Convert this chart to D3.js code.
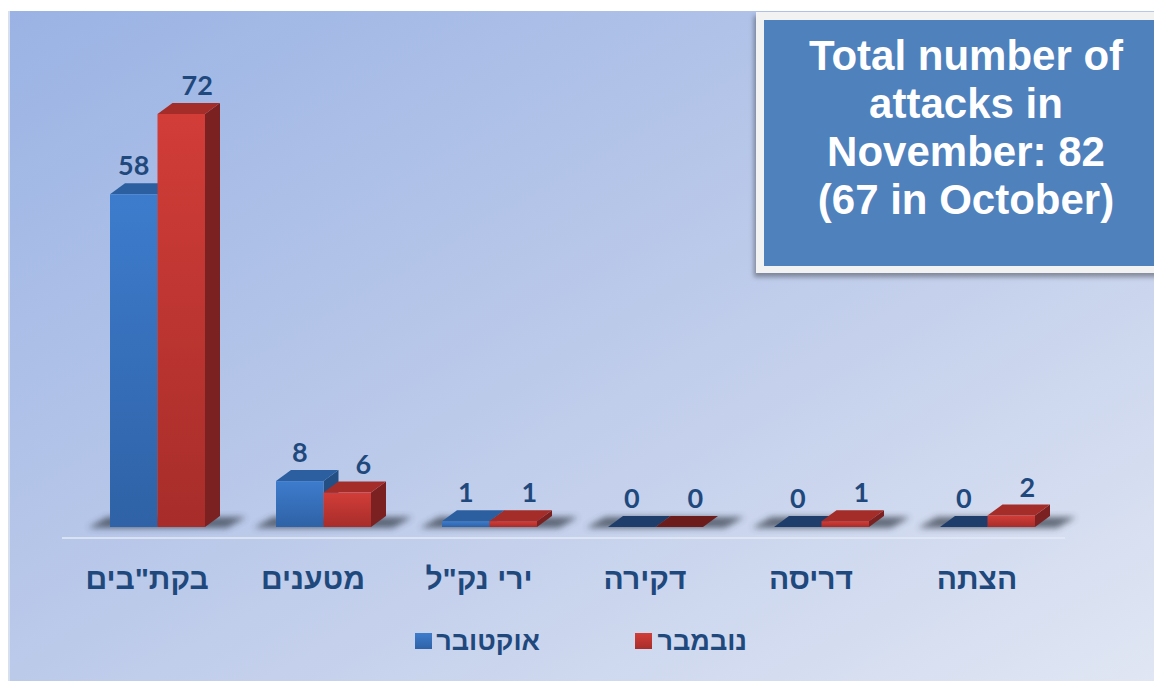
<!DOCTYPE html>
<html>
<head>
<meta charset="utf-8">
<script src="https://cdn.jsdelivr.net/npm/d3@7"></script>
<style>
  body { margin: 0; background: #fff; }
  svg { display: block; }
</style>
</head>
<body>
<svg width="1154" height="682"></svg>
<script>
// categories (right-to-left order as in the picture, shown left to right)
var categories = ["בקת\"בים", "מטענים", "ירי נק\"ל", "דקירה", "דריסה", "הצתה"];
var october = [58, 8, 1, 0, 0, 0];
var november = [72, 6, 1, 0, 1, 2];
var seriesNames = ["אוקטובר", "נובמבר"];
var boxLines = ["Total number of", "attacks in", "November: 82", "(67 in October)"];

var svg = d3.select("svg");
var defs = svg.append("defs");

// background gradient
var bg = defs.append("linearGradient").attr("id", "bg")
  .attr("x1", 0).attr("y1", 0).attr("x2", 1).attr("y2", 1);
bg.append("stop").attr("offset", 0).attr("stop-color", "#9ab3e4");
bg.append("stop").attr("offset", 0.5).attr("stop-color", "#bccaea");
bg.append("stop").attr("offset", 1).attr("stop-color", "#e0e6f3");

function vgrad(id, c1, c2) {
  var g = defs.append("linearGradient").attr("id", id)
    .attr("x1", 0).attr("y1", 0).attr("x2", 0).attr("y2", 1);
  g.append("stop").attr("offset", 0).attr("stop-color", c1);
  g.append("stop").attr("offset", 1).attr("stop-color", c2);
}
vgrad("blueFront", "#3d7ccd", "#2f62a6");
vgrad("redFront", "#d23d38", "#a72d2a");

defs.append("filter").attr("id", "blur")
  .attr("x", "-20%").attr("y", "-100%").attr("width", "140%").attr("height", "300%")
  .append("feGaussianBlur").attr("stdDeviation", 3);

var sh = defs.append("filter").attr("id", "boxShadow")
  .attr("x", "-10%").attr("y", "-10%").attr("width", "130%").attr("height", "130%");
sh.append("feDropShadow").attr("dx", -2).attr("dy", 4).attr("stdDeviation", 2.5)
  .attr("flood-color", "#000").attr("flood-opacity", 0.35);

svg.append("rect").attr("x", 8).attr("y", 11).attr("width", 1146).attr("height", 670)
  .attr("fill", "url(#bg)");
svg.append("rect").attr("x", 8).attr("y", 11).attr("width", 2).attr("height", 670)
  .attr("fill", "#d7e0ef");

// scales
var x = d3.scaleBand().domain(categories).range([64, 1060]);
var y = d3.scaleLinear().domain([0, 72]).range([527, 114]);
var bw = 47.5, dx = 15, dy = -11;
var base = y(0);

// floor line
svg.append("line").attr("x1", 62).attr("x2", 1065).attr("y1", 538).attr("y2", 538)
  .attr("stroke", "#e3e9f5").attr("stroke-width", 2).attr("opacity", 0.8);

var colors = {
  blue: { front: "url(#blueFront)", top: "#2c5f9f", side: "#244f85", flat: "#1f3d6b" },
  red: { front: "url(#redFront)", top: "#a52d29", side: "#7b2121", flat: "#6d1c1c" }
};

var groups = svg.selectAll("g.grp").data(categories).enter().append("g").attr("class", "grp");

// floor shadows
groups.append("path")
  .attr("d", function (d) {
    var c = x(d) + x.bandwidth() / 2;
    var x0 = c - 37 - 22, x1 = c + 58 + 22;
    return "M" + x0 + "," + (base + 1) + "L" + x1 + "," + (base + 1) +
      "L" + (x1 + dx + 4) + "," + (base + dy + 1) + "L" + (x0 + dx + 4) + "," + (base + dy + 1) + "Z";
  })
  .attr("fill", "#333a47").attr("opacity", 0.7).attr("filter", "url(#blur)");

function drawBar(g, x0, v, col) {
  var yt = y(v);
  if (v > 0) {
    g.append("path")
      .attr("d", "M" + (x0 + bw) + "," + yt + "L" + (x0 + bw + dx) + "," + (yt + dy) +
        "L" + (x0 + bw + dx) + "," + (base + dy) + "L" + (x0 + bw) + "," + base + "Z")
      .attr("fill", col.side);
  }
  g.append("path")
    .attr("d", "M" + x0 + "," + yt + "L" + (x0 + bw) + "," + yt +
      "L" + (x0 + bw + dx) + "," + (yt + dy) + "L" + (x0 + dx) + "," + (yt + dy) + "Z")
    .attr("fill", v > 0 ? col.top : col.flat);
  if (v > 0) {
    g.append("rect").attr("x", x0).attr("y", yt).attr("width", bw).attr("height", base - yt)
      .attr("fill", col.front);
  }
}

groups.each(function (d, i) {
  var g = d3.select(this);
  var c = x(d) + x.bandwidth() / 2;
  drawBar(g, c - 37, october[i], colors.blue);
  drawBar(g, c - 37 + bw, november[i], colors.red);
});

// value labels
var labelFont = "Lato, 'Open Sans', sans-serif";
groups.append("text")
  .attr("x", function (d) { return x(d) + x.bandwidth() / 2 - 37 + bw / 2; })
  .attr("y", function (d, i) { return y(october[i]) - 19; })
  .attr("text-anchor", "middle").attr("font-family", labelFont).attr("font-weight", 700)
  .attr("font-size", 27).attr("fill", "#1f497d")
  .text(function (d, i) { return october[i]; });
groups.append("text")
  .attr("x", function (d) { return x(d) + x.bandwidth() / 2 - 37 + bw * 1.5 + 16; })
  .attr("y", function (d, i) { return y(november[i]) - 19; })
  .attr("text-anchor", "middle").attr("font-family", labelFont).attr("font-weight", 700)
  .attr("font-size", 27).attr("fill", "#1f497d")
  .text(function (d, i) { return november[i]; });

// category labels
var hebFont = "'Liberation Sans', Arial, 'DejaVu Sans', sans-serif";
groups.append("text")
  .attr("x", function (d) { return x(d) + x.bandwidth() / 2; })
  .attr("y", 589)
  .attr("text-anchor", "middle").attr("font-family", hebFont).attr("font-weight", 700)
  .attr("font-size", 30).attr("fill", "#1f497d")
  .text(function (d) { return d; });

// legend
var legend = [
  { name: seriesNames[0], x: 415, fill: "url(#blueFront)", tx: 540 },
  { name: seriesNames[1], x: 635, fill: "url(#redFront)", tx: 747 }
];
var lg = svg.selectAll("g.lg").data(legend).enter().append("g").attr("class", "lg");
lg.append("rect").attr("x", function (d) { return d.x; }).attr("y", 633)
  .attr("width", 17).attr("height", 16).attr("fill", function (d) { return d.fill; });
lg.append("text").attr("x", function (d) { return d.tx; }).attr("y", 650)
  .attr("text-anchor", "end").attr("font-family", hebFont).attr("font-weight", 700)
  .attr("font-size", 27).attr("fill", "#1f497d")
  .text(function (d) { return d.name; });

// text box
svg.append("rect").attr("x", 756).attr("y", 12).attr("width", 410).attr("height", 261)
  .attr("fill", "#f2f2f2").attr("filter", "url(#boxShadow)");
svg.append("rect").attr("x", 764).attr("y", 20).attr("width", 400).attr("height", 246)
  .attr("fill", "#4f81bd");
svg.append("g").selectAll("text").data(boxLines).enter().append("text")
  .attr("x", 966).attr("y", function (d, i) { return 70 + i * 48; })
  .attr("text-anchor", "middle").attr("font-family", "'Liberation Sans', Arial, sans-serif")
  .attr("font-weight", 700).attr("font-size", 42).attr("fill", "#fff")
  .text(function (d) { return d; });
</script>
</body>
</html>
